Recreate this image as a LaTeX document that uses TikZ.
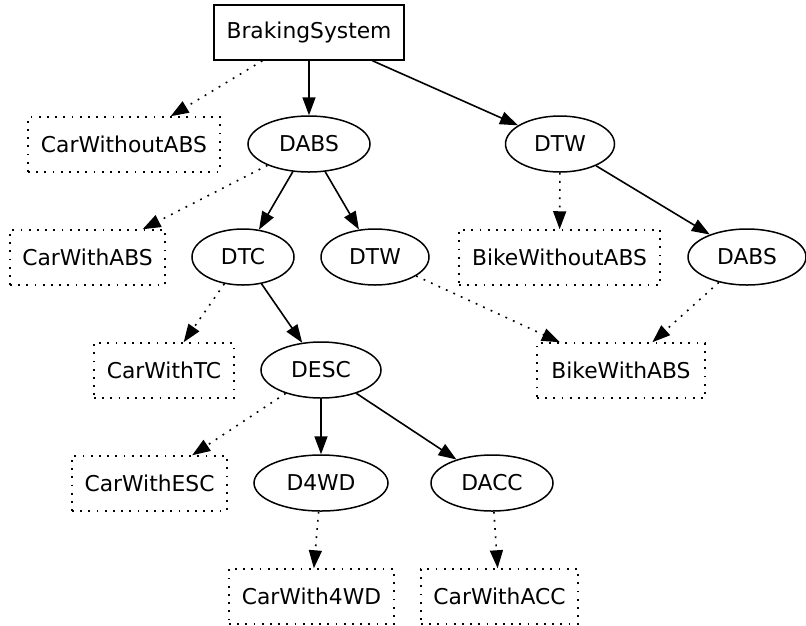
\documentclass[tikz,border=0pt]{standalone}
\usepackage{fontspec}
\setmainfont{DejaVu Sans}
\usetikzlibrary{shapes.geometric,arrows.meta}
\begin{document}
\begin{tikzpicture}[x=1pt,y=-1pt,
  base/.style={inner sep=0pt,font=\fontsize{21.8}{24}\selectfont,line width=1.5pt},
  boxn/.style={base,draw,rectangle,minimum height=55pt},
  featn/.style={base,draw,rectangle,minimum height=55pt,dash pattern=on 1.8pt off 6.4pt},
  elln/.style={base,draw,ellipse,minimum height=56pt},
  arr/.style={line width=1.6pt,-{Triangle[length=18pt,width=13pt]}},
  darr/.style={arr,dash pattern=on 1.8pt off 6.4pt}]
\useasboundingbox (0,0) rectangle (806,625);
\node[boxn,minimum width=190pt] (bs) at (309,32.5) {BrakingSystem};
\node[featn,minimum width=192pt] (cwoabs) at (124,144.5) {CarWithoutABS};
\node[elln,minimum width=122pt] (dabs) at (309,144) {DABS};
\node[elln,minimum width=109pt] (dtw) at (560,144) {DTW};
\node[featn,minimum width=155pt] (cwabs) at (87.5,257.5) {CarWithABS};
\node[elln,minimum width=102pt] (dtc) at (243,257) {DTC};
\node[elln,minimum width=108pt] (dtwb) at (375,257) {DTW};
\node[featn,minimum width=201pt] (bwoabs) at (559.5,257.5) {BikeWithoutABS};
\node[elln,minimum width=118pt] (dabsb) at (747,257) {DABS};
\node[featn,minimum width=140pt] (cwtc) at (164,370.5) {CarWithTC};
\node[elln,minimum width=120pt] (desc) at (321,370) {DESC};
\node[featn,minimum width=168pt] (bwabs) at (621,370.5) {BikeWithABS};
\node[featn,minimum width=155pt] (cwesc) at (149.5,483.5) {CarWithESC};
\node[elln,minimum width=134pt] (d4wd) at (321,483) {D4WD};
\node[elln,minimum width=122pt] (dacc) at (492,483) {DACC};
\node[featn,minimum width=165pt] (cw4wd) at (311.5,596.5) {CarWith4WD};
\node[featn,minimum width=157pt] (cwacc) at (499.5,596.5) {CarWithACC};
\draw[darr] (bs) -- (cwoabs);
\draw[arr] (bs) -- (dabs);
\draw[arr] (bs) -- (dtw);
\draw[darr] (dabs) -- (cwabs);
\draw[arr] (dabs) -- (dtc);
\draw[arr] (dabs) -- (dtwb);
\draw[darr] (dtw) -- (bwoabs);
\draw[arr] (dtw) -- (dabsb);
\draw[darr] (dtc) -- (cwtc);
\draw[arr] (dtc) -- (desc);
\draw[darr] (dtwb) -- (bwabs);
\draw[darr] (dabsb) -- (bwabs);
\draw[darr] (desc) -- (cwesc);
\draw[arr] (desc) -- (d4wd);
\draw[arr] (desc) -- (dacc);
\draw[darr] (d4wd) -- (cw4wd);
\draw[darr] (dacc) -- (cwacc);
\end{tikzpicture}
\end{document}
